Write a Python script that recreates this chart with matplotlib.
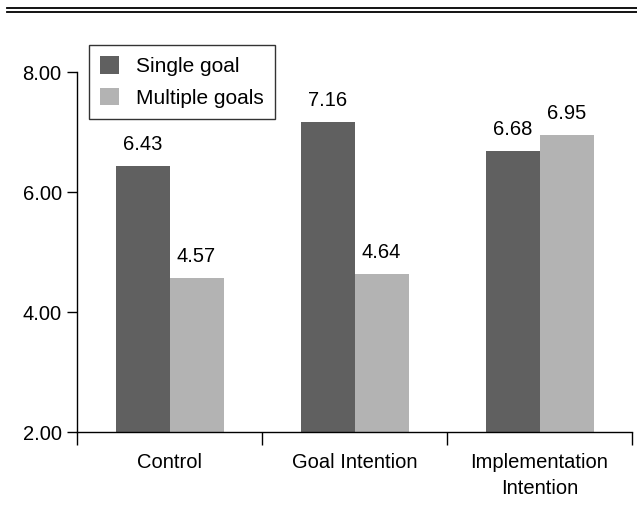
import matplotlib
matplotlib.use("Agg")
import matplotlib.pyplot as plt
from matplotlib.lines import Line2D
import numpy as np

plt.rcParams['font.family'] = ['Liberation Sans', 'DejaVu Sans']

categories = ["Control", "Goal Intention", "Implementation\nIntention"]
series_names = ["Single goal", "Multiple goals"]
single_goal = [6.43, 7.16, 6.68]
multiple_goals = [4.57, 4.64, 6.95]
y_ticks = [2.0, 4.0, 6.0, 8.0]

colors = ["#606060", "#b3b3b3"]
fs = 14.5

fig = plt.figure(figsize=(6.37, 5.25), dpi=100)
ax = fig.add_axes([77 / 637, (525 - 432) / 525, (632 - 77) / 637, 360 / 525])

x = np.arange(len(categories))
w = 54 / 185
ax.bar(x - w / 2, np.array(single_goal) - 2, w, bottom=2, color=colors[0], label=series_names[0])
ax.bar(x + w / 2, np.array(multiple_goals) - 2, w, bottom=2, color=colors[1], label=series_names[1])

for xs, vals in ((x - w / 2, single_goal), (x + w / 2, multiple_goals)):
    for xi, v in zip(xs, vals):
        ax.text(xi, v + 0.2, f"{v:.2f}", ha="center", va="bottom", fontsize=fs)

ax.set_xlim(-0.5, len(categories) - 0.5)
ax.set_ylim(2, 8)
ax.set_yticks(y_ticks)
ax.set_yticklabels([f"{t:.2f}" for t in y_ticks], fontsize=fs)
ax.set_xticks(np.arange(len(categories) + 1) - 0.5)
ax.set_xticklabels([])
ax.set_xticks(x, minor=True)
ax.set_xticklabels(categories, minor=True, fontsize=fs, linespacing=1.45)
ax.tick_params(axis="x", which="major", direction="out", length=9, width=1)
ax.tick_params(axis="x", which="minor", length=0, pad=15)
ax.tick_params(axis="y", direction="out", length=7, width=1, pad=4)

for s in ("top", "right"):
    ax.spines[s].set_visible(False)
for s in ("left", "bottom"):
    ax.spines[s].set_linewidth(1)

leg = ax.legend(loc="upper left", bbox_to_anchor=(12 / 555, 1 + 27 / 360), fontsize=fs + 0.5,
                borderaxespad=0, frameon=True, fancybox=False, edgecolor="black", borderpad=0.55,
                handlelength=0.9, handleheight=0.9, handletextpad=0.8, labelspacing=0.55)
leg.get_frame().set_linewidth(1)

# double rule across the top
for yy in (8, 12):
    fig.add_artist(Line2D([7 / 637, 1], [1 - yy / 525] * 2, transform=fig.transFigure,
                          color="black", linewidth=1.3))

fig.savefig("out.png", dpi=100)
